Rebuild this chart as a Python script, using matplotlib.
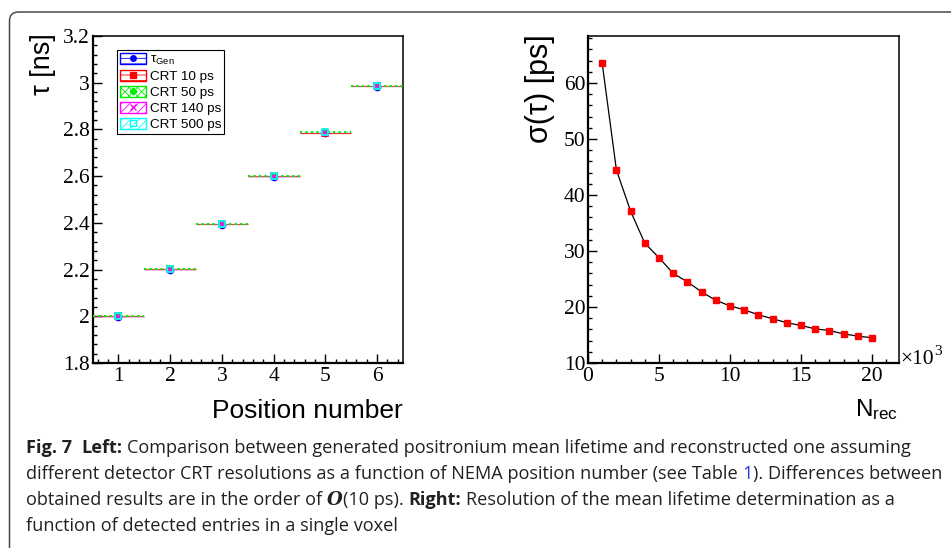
import matplotlib.pyplot as plt
from matplotlib.patches import Patch, FancyBboxPatch
from matplotlib.lines import Line2D
from matplotlib.ticker import MultipleLocator
from matplotlib.transforms import IdentityTransform

# left panel: mean lifetime per NEMA position [ns]
positions = [1, 2, 3, 4, 5, 6]
tau_gen = [1.997, 2.198, 2.392, 2.597, 2.784, 2.983]
tau_crt10 = [2.000, 2.201, 2.394, 2.599, 2.786, 2.984]
tau_crt50 = [2.002, 2.202, 2.395, 2.600, 2.788, 2.985]
tau_crt140 = [1.999, 2.200, 2.393, 2.598, 2.785, 2.984]
tau_crt500 = [2.003, 2.203, 2.396, 2.601, 2.790, 2.986]
tau_err = [0.003, 0.003, 0.003, 0.003, 0.003, 0.003]
pos_halfwidth = 0.5

# right panel: resolution vs number of entries (x in units of 10^3)
n_rec = [1, 2, 3, 4, 5, 6, 7, 8, 9, 10, 11, 12, 13, 14, 15, 16, 17, 18, 19, 20]
sigma_tau = [63.5, 44.5, 37.1, 31.4, 28.8, 26.0, 24.5, 22.7, 21.2, 20.2,
             19.5, 18.6, 17.9, 17.2, 16.7, 16.1, 15.8, 15.2, 14.8, 14.5]

plt.rcParams['mathtext.fontset'] = 'custom'
plt.rcParams['mathtext.rm'] = 'Liberation Sans'
plt.rcParams['mathtext.it'] = 'Liberation Sans:italic'
plt.rcParams['hatch.linewidth'] = 0.6

W, H = 951, 548
fig = plt.figure(figsize=(W / 100, H / 100), dpi=100)


def px_rect(x0, y0, x1, y1):
    return [x0 / W, 1 - y1 / H, (x1 - x0) / W, (y1 - y0) / H]


ax1 = fig.add_axes(px_rect(92.6, 36, 403, 363))
ax2 = fig.add_axes(px_rect(588, 36, 899, 363))


def root_style(ax):
    for s in ax.spines.values():
        s.set_linewidth(1.1)
    ax.spines['left'].set_linewidth(1.6)
    ax.spines['bottom'].set_linewidth(1.6)
    ax.tick_params(which='both', direction='in', top=False, right=False,
                   labelsize=15.5, labelfontfamily='Liberation Serif')
    ax.tick_params(which='major', length=6.5, width=1.0)
    ax.tick_params(which='minor', length=3.2, width=1.0)
    ax.tick_params(axis='y', pad=2)
    ax.tick_params(axis='x', pad=3)


# ---- left panel
# name, values, colour, marker, error line style, width, alpha, hatch, z of error line
series = [
    ('CRT 10 ps', tau_crt10, '#ff0000', 's', '-', 0.9, 0.8, '---', 2.2),
    ('CRT 50 ps', tau_crt50, '#00ee00', 'P', ':', 1.5, 1.0, 'xxxx', 2.9),
    ('CRT 140 ps', tau_crt140, '#ff00ff', 'x', '-', 0.5, 0.3, '////', 2.1),
    ('CRT 500 ps', tau_crt500, '#00ffff', 's', ':', 0.9, 0.6, '////', 2.5),
]

ax1.plot(positions, tau_gen, 'o', color='#0000ff', ms=4.5, zorder=3)
handles = [(Patch(facecolor='white', edgecolor='#0000ff', hatch='---', lw=1.0),
            Line2D([], [], marker='o', color='#0000ff', ls='', ms=4))]
labels = ['τ$_{\\mathrm{Gen}}$']
for i, (name, vals, c, m, ls, lw, alpha, hatch, z) in enumerate(series):
    mfc = 'none' if name == 'CRT 500 ps' else c
    eb = ax1.errorbar(positions, vals, xerr=pos_halfwidth, yerr=tau_err, fmt=m,
                      color=c, mfc=mfc, ms=4, mew=1.2, elinewidth=lw)
    eb[0].set_zorder(3.1 + 0.1 * i)
    eb[2][0].set_zorder(z)
    eb[2][0].set_linestyle(ls)
    eb[2][0].set_alpha(alpha)
    handles.append((Patch(facecolor='white', edgecolor=c, hatch=hatch, lw=1.0),
                    Line2D([], [], marker=m, color=c, mfc=mfc, ls='', ms=4)))
    labels.append(name)

ax1.set_xlim(0.5, 6.5)
ax1.set_ylim(1.8, 3.2)
ax1.xaxis.set_major_locator(MultipleLocator(1))
ax1.xaxis.set_minor_locator(MultipleLocator(0.2))
ax1.yaxis.set_minor_locator(MultipleLocator(0.04))
ax1.set_yticks([1.8, 2.0, 2.2, 2.4, 2.6, 2.8, 3.0, 3.2],
               ['1.8', '2', '2.2', '2.4', '2.6', '2.8', '3', '3.2'])
root_style(ax1)

leg = ax1.legend(handles, labels, loc='upper left', bbox_to_anchor=(0.079, 0.957),
                 prop={'family': 'Liberation Sans', 'size': 9.7},
                 frameon=True, fancybox=False, edgecolor='black', framealpha=1,
                 handlelength=1.9, handleheight=0.9, labelspacing=0.2,
                 borderpad=0.22, handletextpad=0.3, borderaxespad=0)
leg.get_frame().set_linewidth(0.8)

# ---- right panel
ax2.plot(n_rec, sigma_tau, color='black', lw=0.9, zorder=2)
ax2.plot(n_rec, sigma_tau, 's', color='#ff0000', ms=5, zorder=3)
ax2.set_xlim(0, 21.9)
ax2.set_ylim(10, 68.4)
ax2.xaxis.set_major_locator(MultipleLocator(5))
ax2.xaxis.set_minor_locator(MultipleLocator(1))
ax2.yaxis.set_major_locator(MultipleLocator(10))
ax2.yaxis.set_minor_locator(MultipleLocator(2))
root_style(ax2)

# axis titles
fig.text(42.5 / W, 1 - 33 / H, 'τ [ns]', rotation=90, ha='center', va='top',
         fontsize=19.5, family='Liberation Sans')
fig.text(403 / W, 1 - 418 / H, 'Position number', ha='right', va='baseline',
         fontsize=19, family='Liberation Sans')
fig.text(540 / W, 1 - 34 / H, 'σ(τ) [ps]', rotation=90, ha='center', va='top',
         fontsize=22, family='Liberation Sans')
fig.text(898 / W, 1 - 416 / H, 'N$_{\\mathrm{rec}}$', ha='right', va='baseline',
         fontsize=17.5, family='Liberation Sans')
fig.text(900 / W, 1 - 364 / H, '×10', ha='left', va='baseline',
         fontsize=15.5, family='Liberation Serif')
fig.text(934 / W, 1 - 355 / H, '3', ha='left', va='baseline',
         fontsize=11, family='Liberation Serif')

# rounded frame around the figure
frame = FancyBboxPatch((9.5, -60), 1100, H - 12 + 60,
                       boxstyle='round,pad=0,rounding_size=9',
                       transform=IdentityTransform(), facecolor='none',
                       edgecolor='#4a4a4a', lw=1.1)
fig.add_artist(frame)

# caption
cap_font = 'Open Sans'
cap_size = 13.1
cap_color = '#231f20'
renderer = fig.canvas.get_renderer()


def text_width(s, **kw):
    t = fig.text(0, 0, s, family=cap_font, fontsize=cap_size, **kw)
    w = t.get_window_extent(renderer=renderer).width
    t.remove()
    return w


space_w = text_width('a a') - text_width('aa')


def caption_line(x, y, parts):
    for s, kw in parts:
        lead = len(s) - len(s.lstrip(' '))
        trail = len(s) - len(s.rstrip(' '))
        x += lead * space_w
        core = s.strip(' ')
        kw = dict(kw)
        fam = kw.pop('family', cap_font)
        color = kw.pop('color', cap_color)
        fig.text(x / W, 1 - y / H, core, family=fam, fontsize=cap_size,
                 va='baseline', ha='left', color=color, **kw)
        t = fig.text(0, 0, core, family=fam, fontsize=cap_size, **kw)
        x += t.get_window_extent(renderer=renderer).width
        t.remove()
        x += trail * space_w


bold = {'weight': 'bold'}
caption_line(26, 453, [('Fig. 7  ', bold), ('Left:', bold),
                       (' Comparison between generated positronium mean lifetime '
                        'and reconstructed one assuming', {})])
caption_line(26, 479, [('different detector CRT resolutions as a function of NEMA '
                        'position number (see Table ', {}),
                       ('1', {'color': '#2b35d6'}),
                       ('). Differences between', {})])
caption_line(26, 505, [('obtained results are in the order of ', {}),
                       ('O', {'family': 'DejaVu Serif', 'style': 'italic', 'weight': 'bold'}),
                       ('(10 ps). ', {}), ('Right:', bold),
                       (' Resolution of the mean lifetime determination as a', {})])
caption_line(26, 531, [('function of detected entries in a single voxel', {})])

fig.savefig('out.png', dpi=100)
